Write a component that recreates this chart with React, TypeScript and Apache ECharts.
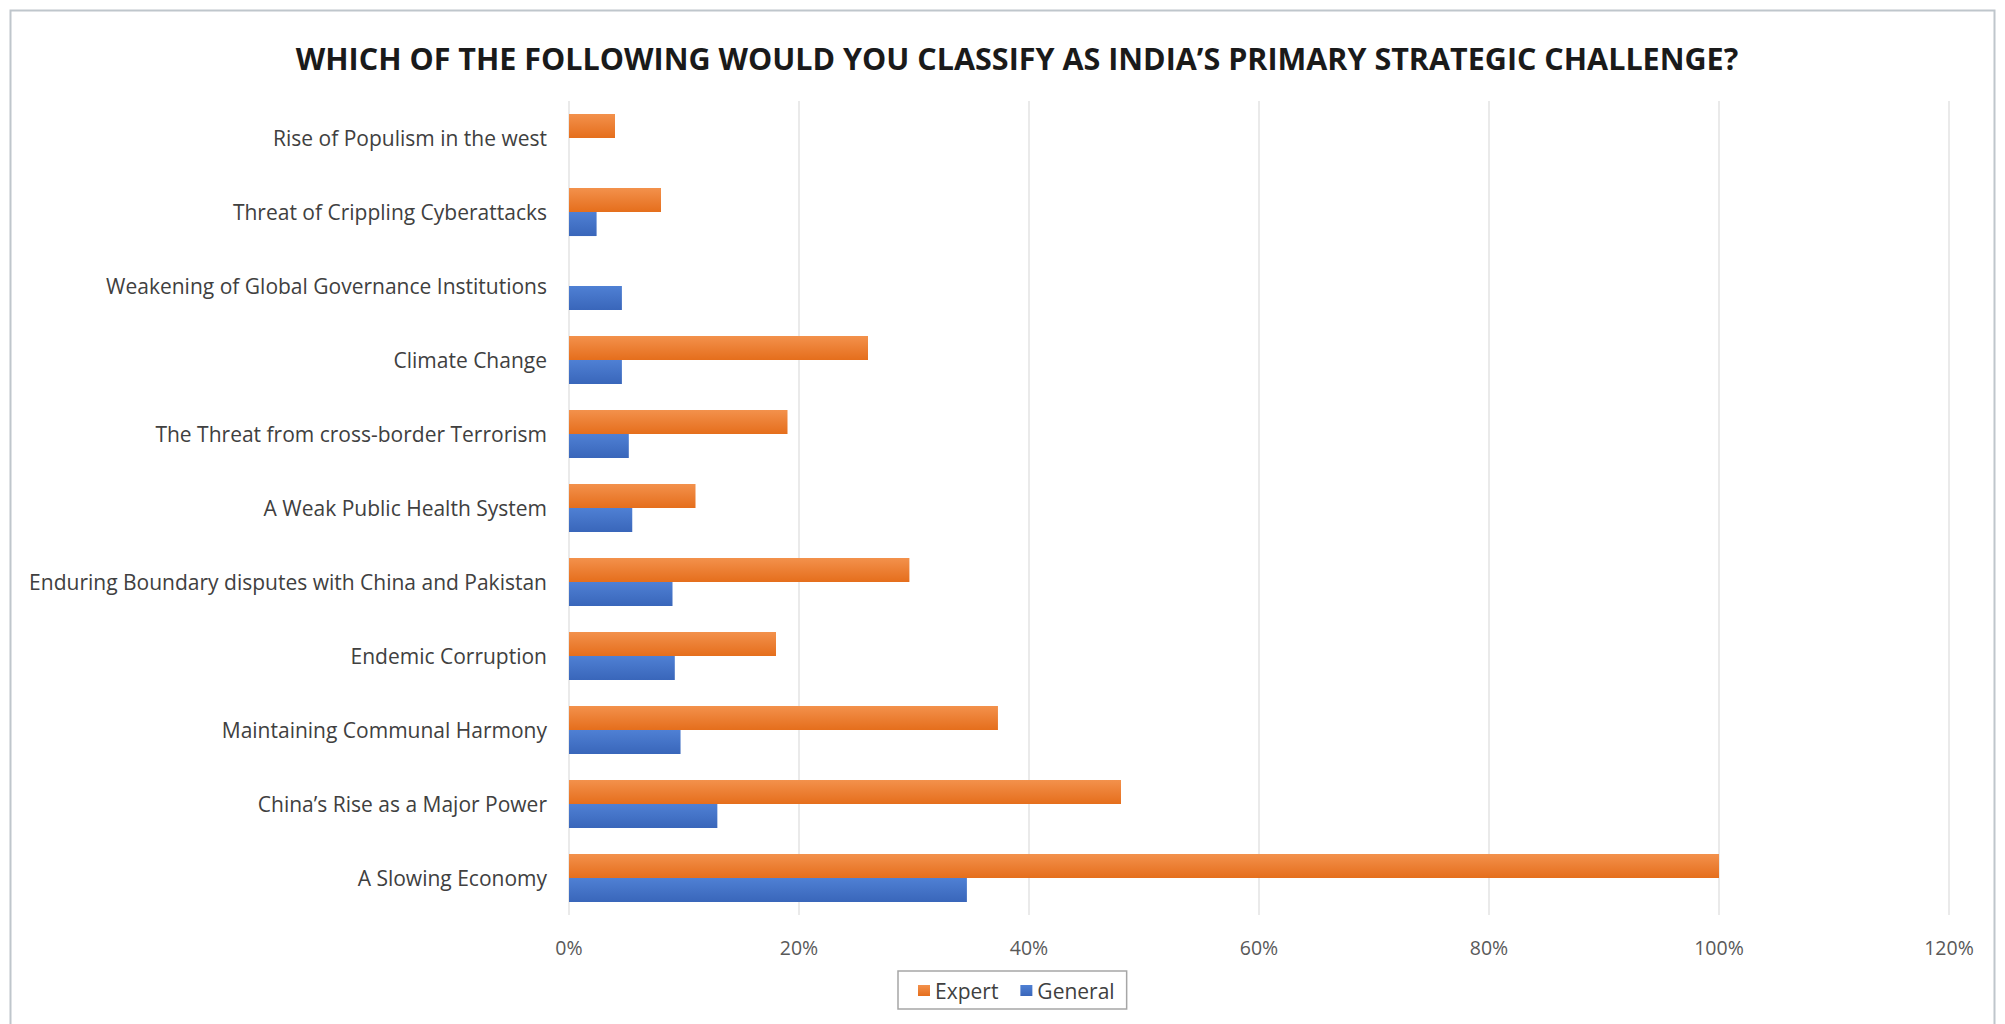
import React, { useEffect, useRef } from "react";
import * as echarts from "echarts";

const TITLE = "WHICH OF THE FOLLOWING WOULD YOU CLASSIFY AS INDIA\u2019S PRIMARY STRATEGIC CHALLENGE?";

const categories = [
  "Rise of Populism in the west",
  "Threat of Crippling Cyberattacks",
  "Weakening of Global Governance Institutions",
  "Climate Change",
  "The Threat from cross-border Terrorism",
  "A Weak Public Health System",
  "Enduring Boundary disputes with China and Pakistan",
  "Endemic Corruption",
  "Maintaining Communal Harmony",
  "China\u2019s Rise as a Major Power",
  "A Slowing Economy",
];

const expert = [4, 8, 0, 26, 19, 11, 29.6, 18, 37.3, 48, 100];
const general = [0, 2.4, 4.6, 4.6, 5.2, 5.5, 9, 9.2, 9.7, 12.9, 34.6];

const xTicks = { min: 0, max: 120, interval: 20 };

export default function App() {
  const ref = useRef<HTMLDivElement>(null);
  useEffect(() => {
    document.body.style.margin = "0";
    const chart = echarts.init(ref.current!, null, { renderer: "svg" });
    const grad = (a: string, b: string) =>
      new echarts.graphic.LinearGradient(0, 0, 0, 1, [
        { offset: 0, color: a },
        { offset: 1, color: b },
      ]);
    chart.setOption({
      animation: false,
      backgroundColor: "#ffffff",
      textStyle: { fontFamily: "'Open Sans', sans-serif" },
      title: {
        text: TITLE,
        left: 1012,
        top: 37,
        textAlign: "center",
        textStyle: {
          fontFamily: "'Open Sans', sans-serif",
          fontWeight: "bold",
          fontSize: 30.5,
          color: "#1a1a1a",
        },
      },
      graphic: [
        {
          type: "rect",
          shape: { x: 10.5, y: 10.5, width: 1984, height: 1030 },
          style: { fill: "none", stroke: "#BFC6CC", lineWidth: 2 },
          silent: true,
        },
      ],
      legend: {
        data: ["Expert", "General"],
        left: 898,
        top: 971,
        icon: "rect",
        itemWidth: 12,
        itemHeight: 11,
        itemGap: 22,
        padding: [9, 12, 8, 20],
        borderColor: "#A6A6A6",
        borderWidth: 1.5,
        textStyle: { fontSize: 21, color: "#404040", fontFamily: "'Open Sans', sans-serif" },
      },
      grid: { left: 569, right: 56, top: 101, bottom: 109, containLabel: false },
      xAxis: {
        type: "value",
        min: xTicks.min,
        max: xTicks.max,
        interval: xTicks.interval,
        axisLine: { show: false },
        axisTick: { show: false },
        axisLabel: {
          formatter: "{value}%",
          fontSize: 19.5,
          color: "#595959",
          margin: 22,
        },
        splitLine: { show: true, lineStyle: { color: "#E3E3E3", width: 1.5 } },
      },
      yAxis: {
        type: "category",
        data: categories,
        inverse: true,
        axisLine: { show: false },
        axisTick: { show: false },
        axisLabel: { fontSize: 21, color: "#404040", margin: 22 },
      },
      series: [
        {
          name: "Expert",
          type: "bar",
          data: expert,
          barGap: "0%",
          barCategoryGap: "35%",
          itemStyle: { color: grad("#F3914C", "#E56E1C") },
        },
        {
          name: "General",
          type: "bar",
          data: general,
          barGap: "0%",
          barCategoryGap: "35%",
          itemStyle: { color: grad("#4F80D4", "#3966BA") },
        },
      ],
    });
    return () => chart.dispose();
  }, []);
  return <div ref={ref} style={{ width: 2005, height: 1024 }} />;
}
